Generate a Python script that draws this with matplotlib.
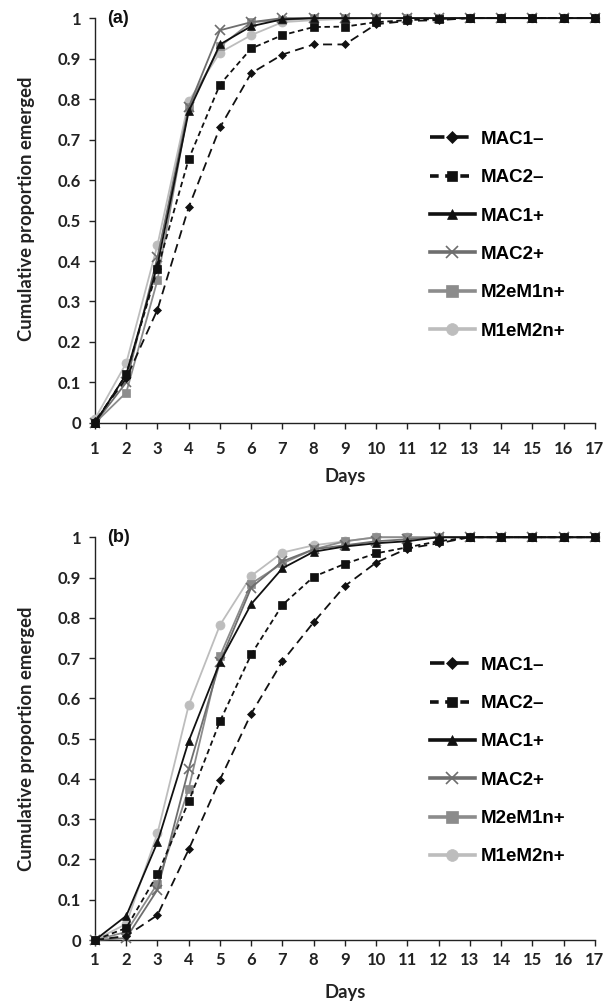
import numpy as np
import matplotlib.pyplot as plt
from matplotlib.lines import Line2D

days = np.arange(1, 18)

labels = ['MAC1–', 'MAC2–', 'MAC1+', 'MAC2+', 'M2eM1n+', 'M1eM2n+']

# (a) cumulative proportion emerged per day
a_mac1_neg = [0.005, 0.11, 0.28, 0.533, 0.73, 0.864, 0.91, 0.935, 0.935, 0.985, 0.993, 0.995, 1, 1, 1, 1, 1]
a_mac2_neg = [0.0, 0.12, 0.38, 0.652, 0.836, 0.925, 0.958, 0.978, 0.979, 0.99, 0.995, 0.998, 1, 1, 1, 1, 1]
a_mac1_pos = [0.0, 0.12, 0.39, 0.77, 0.935, 0.98, 0.997, 1, 1, 1, 1, 1, 1, 1, 1, 1, 1]
a_mac2_pos = [0.0, 0.10, 0.41, 0.78, 0.97, 0.99, 1, 1, 1, 1, 1, 1, 1, 1, 1, 1, 1]
a_m2em1n = [0.0, 0.075, 0.353, 0.78, 0.93, 0.99, 0.995, 1, 1, 1, 1, 1, 1, 1, 1, 1, 1]
a_m1em2n = [0.01, 0.148, 0.44, 0.795, 0.915, 0.958, 0.99, 0.995, 0.998, 1, 1, 1, 1, 1, 1, 1, 1]

# (b)
b_mac1_neg = [0.0, 0.01, 0.062, 0.225, 0.398, 0.562, 0.692, 0.789, 0.879, 0.937, 0.972, 0.985, 1, 1, 1, 1, 1]
b_mac2_neg = [0.0, 0.03, 0.163, 0.344, 0.543, 0.709, 0.832, 0.902, 0.934, 0.96, 0.975, 0.99, 1, 1, 1, 1, 1]
b_mac1_pos = [0.0, 0.06, 0.243, 0.494, 0.69, 0.834, 0.923, 0.964, 0.977, 0.985, 0.99, 1, 1, 1, 1, 1, 1]
b_mac2_pos = [0.0, 0.005, 0.125, 0.425, 0.69, 0.875, 0.94, 0.97, 0.98, 0.99, 0.995, 1, 1, 1, 1, 1, 1]
b_m2em1n = [0.0, 0.02, 0.14, 0.376, 0.705, 0.885, 0.935, 0.97, 0.99, 1, 1, 1, 1, 1, 1, 1, 1]
b_m1em2n = [0.0, 0.04, 0.265, 0.583, 0.782, 0.904, 0.962, 0.98, 0.99, 1, 1, 1, 1, 1, 1, 1, 1]

colors = ['#111111', '#111111', '#111111', '#6e6e6e', '#8c8c8c', '#bdbdbd']
markers = ['D', 's', '^', 'x', 's', 'o']
msizes = [4.5, 5.5, 5.5, 7, 6, 6.5]
dashes = [(5, 3), (3, 2), None, None, None, None]

fig = plt.figure(figsize=(6.11, 10.07), dpi=100)
ax_a = fig.add_axes([0.1555, 0.580, 0.818, 0.402])
ax_b = fig.add_axes([0.1555, 0.0665, 0.818, 0.400])

panels = [
    (ax_a, '(a)', [a_mac1_neg, a_mac2_neg, a_mac1_pos, a_mac2_pos, a_m2em1n, a_m1em2n],
     9, -0.111, 0.53, 0.74),
    (ax_b, '(b)', [b_mac1_neg, b_mac2_neg, b_mac1_pos, b_mac2_pos, b_m2em1n, b_m1em2n],
     4.5, -0.109, 0.5, 0.722),
]

tick_font = 'Lato'
leg_font = 'Liberation Sans'

for ax, tag, series, xpad, xlab_y, ylab_y, leg_y in panels:
    # draw lighter series first so the black dashed ones sit on top
    for i in reversed(range(len(series))):
        ln, = ax.plot(days, series[i], color=colors[i], marker=markers[i],
                      markersize=msizes[i], lw=1.3, clip_on=False,
                      markeredgewidth=1.2 if markers[i] == 'x' else 0.5,
                      markeredgecolor=colors[i], zorder=3 + (5 - i))
        if dashes[i] is not None:
            ln.set_dashes(dashes[i])

    ax.set_xlim(1, 17)
    ax.set_ylim(0, 1)
    ax.set_xticks(days)
    ax.set_yticks(np.round(np.arange(0, 1.01, 0.1), 1))
    ax.set_yticklabels(['0'] + [f'{v:.1f}' for v in np.arange(0.1, 0.95, 0.1)] + ['1'])
    for s in ['top', 'right']:
        ax.spines[s].set_visible(False)
    for s in ['left', 'bottom']:
        ax.spines[s].set_linewidth(1.0)
        ax.spines[s].set_color('#222222')
    ax.tick_params(axis='both', direction='out', length=4, width=1.0, color='#222222')
    ax.tick_params(axis='x', pad=xpad)
    ax.tick_params(axis='y', pad=6)
    for t in ax.get_xticklabels() + ax.get_yticklabels():
        t.set_fontfamily(tick_font)
        t.set_fontweight('bold')
        t.set_fontsize(12)
        t.set_color('#222222')

    ax.set_xlabel('Days', fontfamily=tick_font, fontweight='bold', fontsize=13.3,
                  color='#222222')
    ax.set_ylabel('Cumulative proportion emerged', fontfamily=tick_font,
                  fontweight='bold', fontsize=13.3, color='#222222')
    ax.xaxis.set_label_coords(0.5, xlab_y)
    ax.yaxis.set_label_coords(-0.12, ylab_y)
    ax.text(0.024, 1.0, tag, transform=ax.transAxes, fontfamily=leg_font,
            fontweight='bold', fontsize=13, va='center', ha='left', color='#111111')

    handles = []
    for i in range(6):
        h = Line2D([], [], color=colors[i], marker=markers[i],
                   markersize=msizes[i] + 2, lw=2.6,
                   markeredgewidth=1.2 if markers[i] == 'x' else 0.5,
                   markeredgecolor=colors[i])
        if dashes[i] is not None:
            h.set_dashes((dashes[i][0] * 0.8, dashes[i][1] * 0.9))
        handles.append(h)
    ax.legend(handles, labels, loc='upper left', bbox_to_anchor=(0.655, leg_y),
              frameon=False, handlelength=2.4, handletextpad=0.3,
              labelspacing=1.13, borderaxespad=0,
              prop={'family': leg_font, 'weight': 'bold', 'size': 13.5})

fig.savefig('out.png', dpi=100)
